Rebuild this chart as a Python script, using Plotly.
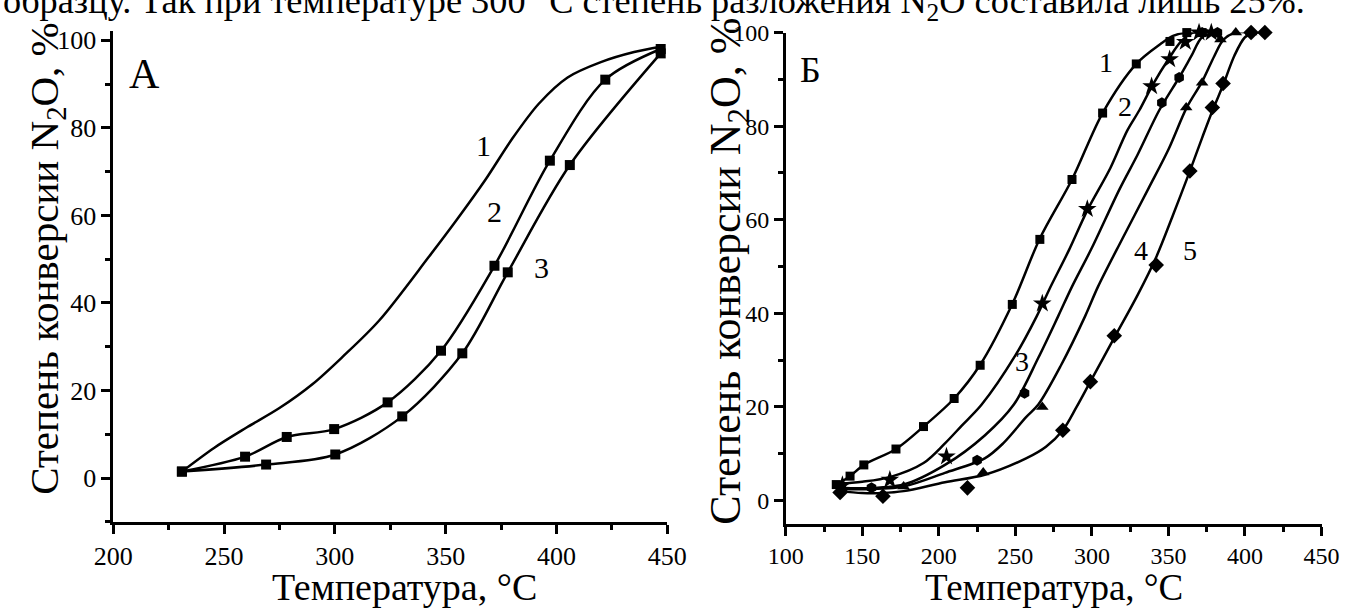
import plotly.graph_objects as go

# ---------------- Panel A data ----------------
a_line1_x = [231, 245.5, 260, 275, 290, 303.7, 320, 342.5, 355, 368, 380, 392, 405, 420, 435, 447]
a_line1_y = [1.5, 6.9, 11.5, 16, 21.5, 27.8, 36, 50.6, 59, 68.2, 77.5, 85.5, 91.5, 95, 97.3, 98.5]

a_s2_x = [231, 259.5, 278.3, 299.7, 323.8, 347.9, 372, 397, 422, 447]
a_s2_y = [1.5, 4.9, 9.4, 11.2, 17.3, 29.1, 48.5, 72.5, 91, 98]

a_s3_x = [231, 269, 300.2, 330.4, 357.5, 378, 406, 447]
a_s3_y = [1.5, 3.1, 5.4, 14.1, 28.5, 47, 71.5, 97]

a_labels = ["1", "2", "3"]
a_label_x = [367, 372, 393]
a_label_y = [76, 61, 48]

# ---------------- Panel B data ----------------
b_l1_x = [133, 142, 151, 172, 190, 210, 227, 248, 266, 287, 307, 329, 345, 353, 362, 372]
b_l1_y = [3.4, 5.2, 7.6, 11, 15.8, 21.8, 29, 42, 56, 68.6, 82.8, 93.3, 97.6, 99.3, 100, 100]
b_m1_x = [133, 142, 151, 172, 190, 210, 227, 248, 266, 287, 307, 329, 351, 362, 372]
b_m1_y = [3.4, 5.2, 7.6, 11, 15.8, 21.8, 28.9, 41.9, 55.8, 68.6, 82.8, 93.3, 98.1, 100, 100]

b_l2_x = [133, 150, 168, 190, 204, 215, 228, 250, 264, 272, 285, 297, 312, 323, 331, 340, 350, 358, 366, 378]
b_l2_y = [3.5, 4.0, 5.0, 8.0, 12.2, 16, 20.5, 31, 39.4, 45, 53.5, 62, 71, 79, 83.4, 89, 94.3, 98, 100, 100]
b_m2_x = [137, 168, 205, 267.6, 297, 339, 350.8, 361, 370, 378]
b_m2_y = [3.3, 4.4, 9.4, 42.1, 62.3, 88.5, 94.3, 98, 100, 100]

b_l3_x = [135, 150, 177, 204, 230, 249, 265, 278, 287, 300, 318, 330, 344, 357, 365, 372, 382]
b_l3_y = [2.8, 2.6, 3.4, 7.6, 13.9, 20.5, 30.5, 39.4, 45.7, 54, 66.5, 74, 83.4, 90.4, 95, 99, 100]
b_m3_x = [156, 225, 256, 345.7, 357, 372, 382]
b_m3_y = [2.7, 8.6, 22.9, 85, 90.4, 100, 100]

b_l4_x = [135, 150, 177, 204, 230, 242, 257, 265, 280, 295.6, 304, 320, 337, 350, 362, 372, 380, 386, 394, 404]
b_l4_y = [2.5, 2.4, 3, 5.9, 9, 12.2, 17.8, 20.5, 29, 39.4, 45.7, 56, 66.7, 75, 84, 89.5, 95, 98.5, 100, 100]
b_m4_x = [177, 229, 267.6, 361.6, 372, 384, 394, 404]
b_m4_y = [3, 6, 20, 84, 89.3, 98.5, 100, 100]

b_l5_x = [135, 150, 163, 177, 204, 230, 257, 270, 281, 290, 299, 315, 330, 342, 353, 364, 372, 379, 386, 393, 400, 406, 413]
b_l5_y = [2.0, 1.6, 1.6, 2.0, 3.9, 5.5, 9, 11.5, 15, 20, 25.4, 35, 44, 52, 61, 70.4, 77.5, 83.5, 89, 95, 99, 100, 100]
b_m5_x = [135.5, 163.5, 218.7, 281, 299, 314.6, 342, 364, 378.7, 385.7, 404, 413]
b_m5_y = [1.7, 0.9, 2.7, 15, 25.4, 35.2, 50.3, 70.4, 84, 89.1, 100, 100]

b_labels = ["1", "2", "3", "4", "5"]
b_label_x = [309.5, 321.6, 254.3, 332.4, 364]
b_label_y = [93.7, 84.3, 29.6, 53.5, 53.5]

# ---------------- figure ----------------
W, H = 1358, 610
FONT = "Liberation Serif"
LW = 2.5

fig = go.Figure()

def line(x, y, xa, ya):
    fig.add_trace(go.Scatter(x=x, y=y, mode="lines", xaxis=xa, yaxis=ya,
                             line=dict(color="black", width=LW, shape="spline", smoothing=0.9),
                             cliponaxis=False, hoverinfo="skip"))

def marks(x, y, xa, ya, symbol, size):
    fig.add_trace(go.Scatter(x=x, y=y, mode="markers", xaxis=xa, yaxis=ya,
                             marker=dict(symbol=symbol, size=size, color="black",
                                         line=dict(width=0)),
                             cliponaxis=False))

# Panel A
line(a_line1_x, a_line1_y, "x", "y")
line(a_s2_x, a_s2_y, "x", "y")
line(a_s3_x, a_s3_y, "x", "y")
marks(a_s2_x, a_s2_y, "x", "y", "square", 10)
marks(a_s3_x, a_s3_y, "x", "y", "square", 10)

# Panel B
for lx, ly in [(b_l1_x, b_l1_y), (b_l2_x, b_l2_y), (b_l3_x, b_l3_y), (b_l4_x, b_l4_y), (b_l5_x, b_l5_y)]:
    line(lx, ly, "x2", "y2")
marks(b_m1_x, b_m1_y, "x2", "y2", "square", 9)
marks(b_m2_x, b_m2_y, "x2", "y2", "star", 14)
marks(b_m3_x, b_m3_y, "x2", "y2", "hexagon", 11)
marks(b_m4_x, b_m4_y, "x2", "y2", "triangle-up", 11)
marks(b_m5_x, b_m5_y, "x2", "y2", "diamond", 12)

def ax(domain, rng, dtick, mdtick, tick0, anchor, fsize):
    return dict(domain=domain, range=rng, anchor=anchor, tick0=tick0, dtick=dtick,
                ticks="outside", ticklen=9, tickwidth=LW, tickcolor="black",
                showline=True, linewidth=LW, linecolor="black", mirror=False,
                showgrid=False, zeroline=False,
                minor=dict(dtick=mdtick, tick0=tick0, ticks="outside", ticklen=5,
                           tickwidth=LW, tickcolor="black", showgrid=False),
                tickfont=dict(family=FONT, size=fsize, color="black"))

fig.update_layout(
    width=W, height=H, margin=dict(l=0, r=0, t=0, b=0),
    paper_bgcolor="white", plot_bgcolor="white", showlegend=False,
    xaxis=ax([96 / W, 667 / W], [200, 450], 50, 25, 200, "y", 26),
    yaxis=ax([90 / H, 592 / H], [-10, 102.2], 20, 10, 0, "x", 26),
    xaxis2=ax([789 / W, 1341 / W], [100, 450], 50, 25, 100, "y2", 24),
    yaxis2=ax([88 / H, 590 / H], [-5, 100], 20, 10, 0, "x2", 24),
)

ann = []
def text(t, x, y, size, xref="paper", yref="paper", angle=0, xanchor="center", yanchor="middle"):
    ann.append(dict(text=t, x=x, y=y, xref=xref, yref=yref, showarrow=False,
                    textangle=angle, xanchor=xanchor, yanchor=yanchor,
                    font=dict(family=FONT, size=size, color="black")))

# cropped line of body text at the very top
text("образцу. Так при температуре 300 °С степень разложения N<sub>2</sub>O составила лишь 25%.",
     1326 / W, 1 + 10 / H, 36.3, xanchor="right")

# axis titles
text("Степень конверсии N<sub>2</sub>O, %", 27 / W, 1 - 251 / H, 41, angle=-90)
text("Температура, °C", 396 / W, 0.038, 38)
text("Степень конверсии N<sub>2</sub>O, %", 730 / W, 1 - 264 / H, 44, angle=-90)
text("Температура, °C", 1065 / W, 0.038, 37)

# panel letters
text("А", 128.5 / W, 1 - 62.5 / H, 42)
text("Б", 815 / W, 1 - 58 / H, 36)

# curve labels
for t, x, y in zip(a_labels, a_label_x, a_label_y):
    text(t, x, y, 30, xref="x", yref="y")
for t, x, y in zip(b_labels, b_label_x, b_label_y):
    text(t, x, y, 28, xref="x2", yref="y2")

fig.update_layout(annotations=ann)
fig.write_html("out.html", config={"displayModeBar": False},
               post_script="document.body.style.margin='0';document.body.style.padding='0';"
                           "document.documentElement.style.overflow='hidden';")
